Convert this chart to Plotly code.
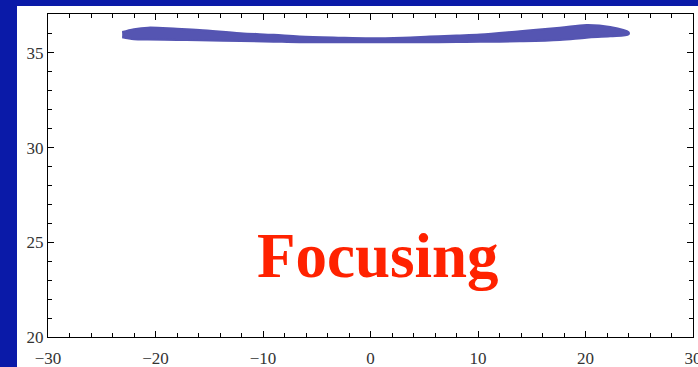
import plotly.graph_objects as go

# Band of points: x positions with upper and lower edges of the band
band_x = [-23.1, -22.0, -20.7, -18.0, -15.9, -12.1, -9.0, -6.6, -3.0, 0.0,
          3.0, 5.5, 8.0, 10.2, 13.9, 17.6, 20.1, 22.3, 24.0]
band_upper = [36.10, 36.25, 36.33, 36.27, 36.21, 36.04, 35.95, 35.86, 35.80, 35.77,
              35.80, 35.86, 35.92, 35.97, 36.14, 36.32, 36.47, 36.37, 36.10]
band_lower = [35.82, 35.72, 35.70, 35.68, 35.66, 35.63, 35.59, 35.56, 35.56, 35.56,
              35.56, 35.56, 35.57, 35.58, 35.61, 35.68, 35.80, 35.87, 35.98]

x_range = [-30, 30]
y_range = [20, 37.05]
x_ticks = [-30, -20, -10, 0, 10, 20, 30]
y_ticks = [20, 25, 30, 35]
label_text = "Focusing"

W, H = 698, 367
L, R, T, B = 48, 5, 14, 30
pw, ph = W - L - R, H - T - B

band_color = "#5555b2"

fig = go.Figure()
fig.add_trace(go.Scatter(
    x=band_x + band_x[::-1],
    y=band_upper + band_lower[::-1],
    fill="toself",
    fillcolor=band_color,
    mode="lines",
    line=dict(color=band_color, width=2, shape="spline"),
    hoverinfo="skip",
    showlegend=False,
))

# white slide panel behind the chart
fig.add_shape(type="rect", xref="paper", yref="paper",
              x0=(17 - L) / pw, x1=(W - L + 5) / pw,
              y0=-(B + 5) / ph, y1=1 + (T - 6) / ph,
              fillcolor="white", line=dict(width=0), layer="below")

fig.add_annotation(text=f"<b>{label_text}</b>", xref="paper", yref="paper",
                   x=(378 - L) / pw, y=(H - B - 256) / ph,
                   showarrow=False, xanchor="center", yanchor="middle",
                   font=dict(family="Liberation Serif", size=63, color="#ff2200"))

tickfont = dict(family="Liberation Serif", size=17, color="#333333")
axis_common = dict(showgrid=False, zeroline=False, showline=True, linecolor="black",
                   linewidth=1.3, mirror="ticks", ticks="inside", ticklen=6,
                   tickwidth=1.3, tickcolor="black", tickfont=tickfont,
                   automargin=False, ticklabeloverflow="allow")

fig.update_xaxes(range=x_range, tickvals=x_ticks, ticklabelstandoff=5,
                 minor=dict(dtick=2, ticks="inside", ticklen=4, tickwidth=1.2, tickcolor="black"),
                 **axis_common)
fig.update_yaxes(range=y_range, tickvals=y_ticks,
                 minor=dict(dtick=1, ticks="inside", ticklen=4, tickwidth=1.2, tickcolor="black"),
                 **axis_common)

fig.update_layout(width=W, height=H,
                  margin=dict(l=L, r=R, t=T, b=B, pad=0, autoexpand=False),
                  paper_bgcolor="#0a1aa8", plot_bgcolor="white",
                  showlegend=False)

fig.write_html("out.html", config={"displayModeBar": False},
               post_script="document.body.style.margin='0';document.body.style.overflow='hidden';")
